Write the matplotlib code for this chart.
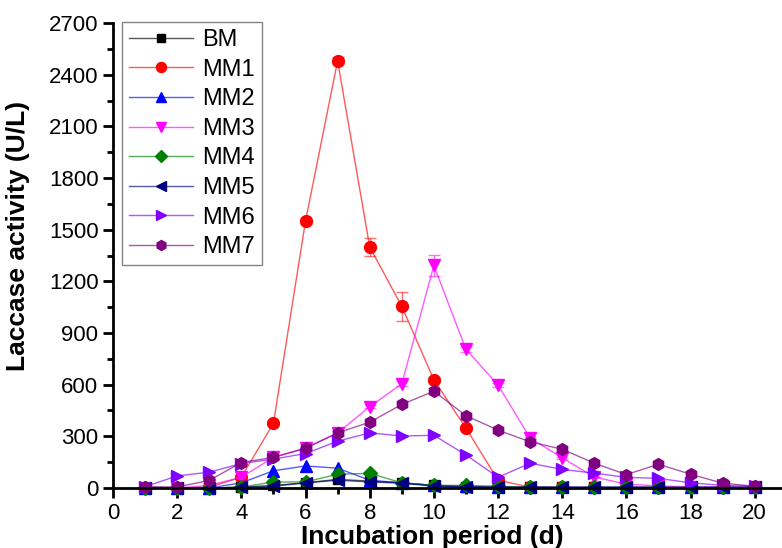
import matplotlib
matplotlib.use("Agg")
import matplotlib.pyplot as plt
from matplotlib.ticker import MultipleLocator
from matplotlib.colors import to_rgba

plt.rcParams['font.family'] = ['Liberation Sans', 'DejaVu Sans']

days = list(range(1, 21))

bm  = [0, 0, 0, 5, 15, 30, 50, 40, 30, 15, 5, 5, 3, 3, 3, 3, 3, 3, 3, 3]
mm1 = [0, 0, 5, 63, 375, 1550, 2480, 1400, 1055, 628, 348, 45, 5, 3, 3, 3, 3, 3, 3, 3]
mm2 = [0, 0, 0, 30, 100, 128, 115, 45, 30, 15, 10, 5, 5, 5, 5, 5, 5, 5, 5, 5]
mm3 = [0, 0, 15, 62, 178, 231, 320, 472, 605, 1292, 805, 598, 290, 175, 64, 22, 12, 6, 4, 3]
mm4 = [0, 0, 0, 5, 35, 35, 80, 85, 30, 15, 15, 10, 4, 3, 3, 3, 3, 3, 3, 3]
mm5 = [0, 0, 0, 3, 10, 30, 45, 35, 28, 10, 5, 5, 4, 3, 3, 3, 3, 3, 3, 3]
mm6 = [8, 70, 92, 142, 168, 200, 272, 320, 302, 306, 192, 62, 144, 108, 86, 62, 56, 30, 15, 10]
mm7 = [8, 6, 44, 148, 178, 231, 320, 382, 485, 562, 420, 336, 268, 225, 144, 78, 138, 80, 28, 10]

mm1_err = [0, 0, 0, 5, 10, 15, 20, 50, 85, 15, 10, 5, 0, 0, 0, 0, 0, 0, 0, 0]
mm3_err = [0, 0, 0, 0, 5, 5, 10, 10, 15, 60, 15, 10, 5, 5, 0, 0, 0, 0, 0, 0]

series = [
    ("BM",  bm,  None,    "black",   "s"),
    ("MM1", mm1, mm1_err, "#FF0000", "o"),
    ("MM2", mm2, None,    "#0000FF", "^"),
    ("MM3", mm3, mm3_err, "#FF00FF", "v"),
    ("MM4", mm4, None,    "#008000", "D"),
    ("MM5", mm5, None,    "#000080", "<"),
    ("MM6", mm6, None,    "#8000FF", ">"),
    ("MM7", mm7, None,    "#800080", "h"),
]

fig = plt.figure(figsize=(7.82, 5.48), dpi=100)
ax = fig.add_axes([0.1445, 0.1095, 0.8555, 0.8485])

for name, vals, err, col, mk in series:
    ms = 7 if mk in ("D", "s") else 8.5
    if err is not None:
        ax.errorbar(days, vals, yerr=err, fmt='none', ecolor=to_rgba(col, 0.55),
                    elinewidth=1.0, capsize=4, capthick=1.0, clip_on=False)
    ax.plot(days, vals, color=to_rgba(col, 0.65), lw=1.0,
            marker=mk, markersize=ms, markerfacecolor=col, markeredgecolor=col,
            label=name, clip_on=False)

ax.set_xlim(0, 20.85)
ax.set_ylim(0, 2700)
ax.xaxis.set_major_locator(MultipleLocator(2))
ax.xaxis.set_minor_locator(MultipleLocator(1))
ax.yaxis.set_major_locator(MultipleLocator(300))
ax.yaxis.set_minor_locator(MultipleLocator(150))

for s in ['top', 'right']:
    ax.spines[s].set_visible(False)
for s in ['left', 'bottom']:
    ax.spines[s].set_linewidth(2)

ax.tick_params(which='major', direction='out', length=7, width=2, labelsize=16)
ax.tick_params(which='minor', direction='out', length=4, width=2)

ax.set_xlabel("Incubation period (d)", fontsize=19, fontweight='bold')
ax.set_ylabel("Laccase activity (U/L)", fontsize=19, fontweight='bold')
ax.xaxis.set_label_coords(0.478, -0.079)
ax.yaxis.set_label_coords(-0.124, 0.542)

leg = ax.legend(loc='upper left', bbox_to_anchor=(0.013, 1.002), fontsize=17,
                frameon=True, fancybox=False, edgecolor='#666666', handlelength=2.7,
                labelspacing=0.32, borderpad=0.3, handletextpad=0.4,
                borderaxespad=0, markerscale=0.85)
leg.get_frame().set_linewidth(1)

fig.savefig("out.png", dpi=100)
